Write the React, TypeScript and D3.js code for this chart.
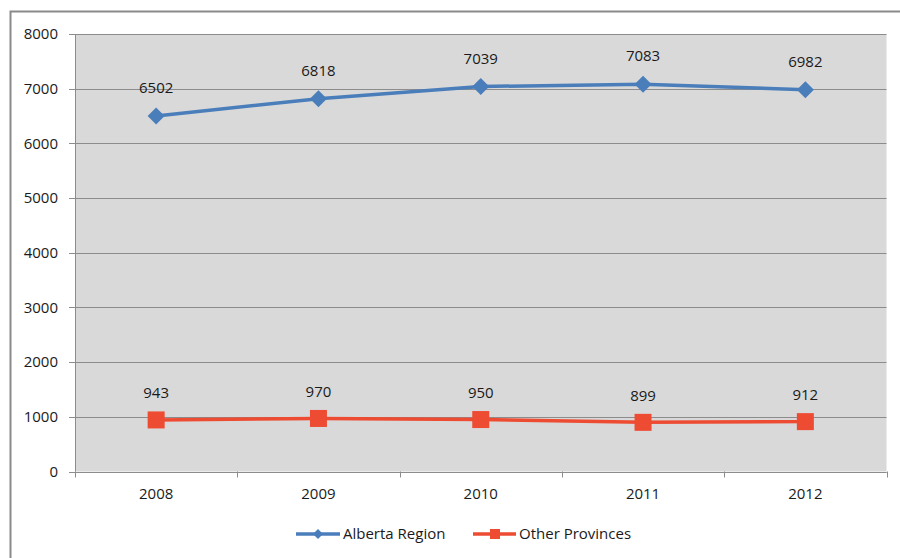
import React from "react";
import * as d3 from "d3";

const years = ["2008", "2009", "2010", "2011", "2012"];
const albertaRegion = [6502, 6818, 7039, 7083, 6982];
const otherProvinces = [943, 970, 950, 899, 912];
const yTicks = [0, 1000, 2000, 3000, 4000, 5000, 6000, 7000, 8000];

const W = 900;
const H = 558;
const plot = { left: 75, right: 886.5, top: 34, bottom: 471.5 };
const FONT = "'Open Sans', 'Liberation Sans', sans-serif";
const FS = 15;
const TXT = "#1a1a1a";
const BLUE = "#4A7EBB";
const RED = "#EE4B33";

export default function App() {
  const x = d3
    .scaleBand<string>()
    .domain(years)
    .range([plot.left, plot.right])
    .paddingInner(0)
    .paddingOuter(0);
  const y = d3.scaleLinear().domain([0, 8000]).range([plot.bottom, plot.top]);
  const cx = (yr: string) => (x(yr) ?? 0) + x.bandwidth() / 2;

  const line = d3
    .line<number>()
    .x((_, i) => cx(years[i]))
    .y((d) => y(d));

  const diamond = (px: number, py: number, r: number) =>
    `M${px},${py - r}L${px + r},${py}L${px},${py + r}L${px - r},${py}Z`;

  const boundaries = years.map((yr) => x(yr) ?? 0).concat([plot.right]);

  return (
    <svg
      width={W}
      height={H}
      style={{ position: "absolute", left: 0, top: 0, display: "block" }}
    >
      <rect x={0} y={0} width={W} height={H} fill="#ffffff" />
      {/* outer chart frame */}
      <path d={`M10.5,${H + 2}V11.5H${W + 2}`} fill="none" stroke="#8a8a8a" strokeWidth={2} />

      {/* plot background */}
      <rect
        x={plot.left}
        y={plot.top}
        width={plot.right - plot.left}
        height={plot.bottom - plot.top}
        fill="#D9D9D9"
      />
      {/* horizontal gridlines */}
      {yTicks.map((t) => (
        <line
          key={t}
          x1={plot.left - 6}
          x2={plot.right}
          y1={Math.round(y(t)) + 0.5}
          y2={Math.round(y(t)) + 0.5}
          stroke="#8C8C8C"
          strokeWidth={1}
        />
      ))}
      {/* axes */}
      <line x1={plot.left + 0.5} x2={plot.left + 0.5} y1={plot.top} y2={plot.bottom} stroke="#8C8C8C" />
      <line
        x1={plot.left}
        x2={plot.right}
        y1={Math.round(y(0)) + 0.5}
        y2={Math.round(y(0)) + 0.5}
        stroke="#8C8C8C"
      />
      {boundaries.map((bx, i) => (
        <line
          key={i}
          x1={Math.round(bx) + 0.5}
          x2={Math.round(bx) + 0.5}
          y1={plot.bottom}
          y2={plot.bottom + 6}
          stroke="#8C8C8C"
        />
      ))}

      {/* y tick labels */}
      {yTicks.map((t) => (
        <text
          key={t}
          x={58}
          y={y(t)}
          dy="0.35em"
          textAnchor="end"
          fontFamily={FONT}
          fontSize={FS}
          fill={TXT}
        >
          {t}
        </text>
      ))}
      {/* x tick labels */}
      {years.map((yr) => (
        <text
          key={yr}
          x={cx(yr)}
          y={494}
          dy="0.35em"
          textAnchor="middle"
          fontFamily={FONT}
          fontSize={FS}
          fill={TXT}
        >
          {yr}
        </text>
      ))}

      {/* Alberta Region series */}
      <path d={line(albertaRegion) ?? ""} fill="none" stroke={BLUE} strokeWidth={3.5} strokeLinejoin="round" />
      {albertaRegion.map((v, i) => (
        <path key={i} d={diamond(cx(years[i]), y(v), 8.5)} fill={BLUE} />
      ))}
      {albertaRegion.map((v, i) => (
        <text
          key={i}
          x={cx(years[i])}
          y={y(v) - 28}
          dy="0.35em"
          textAnchor="middle"
          fontFamily={FONT}
          fontSize={FS}
          fill={TXT}
        >
          {v}
        </text>
      ))}

      {/* Other Provinces series */}
      <path d={line(otherProvinces) ?? ""} fill="none" stroke={RED} strokeWidth={3.5} strokeLinejoin="round" />
      {otherProvinces.map((v, i) => (
        <rect
          key={i}
          x={cx(years[i]) - 8.5}
          y={y(v) - 8.5}
          width={17}
          height={17}
          fill={RED}
        />
      ))}
      {otherProvinces.map((v, i) => (
        <text
          key={i}
          x={cx(years[i])}
          y={y(v) - 27}
          dy="0.35em"
          textAnchor="middle"
          fontFamily={FONT}
          fontSize={FS}
          fill={TXT}
        >
          {v}
        </text>
      ))}

      {/* legend */}
      <g>
        <line x1={296} x2={340} y1={534} y2={534} stroke={BLUE} strokeWidth={3.5} />
        <path d={diamond(318, 534, 5)} fill={BLUE} />
        <text x={343} y={534} dy="0.35em" fontFamily={FONT} fontSize={FS} fill={TXT}>
          Alberta Region
        </text>
        <line x1={473} x2={516} y1={534} y2={534} stroke={RED} strokeWidth={3.5} />
        <rect x={490} y={529} width={10} height={10} fill={RED} />
        <text x={519} y={534} dy="0.35em" fontFamily={FONT} fontSize={FS} fill={TXT}>
          Other Provinces
        </text>
      </g>
    </svg>
  );
}
